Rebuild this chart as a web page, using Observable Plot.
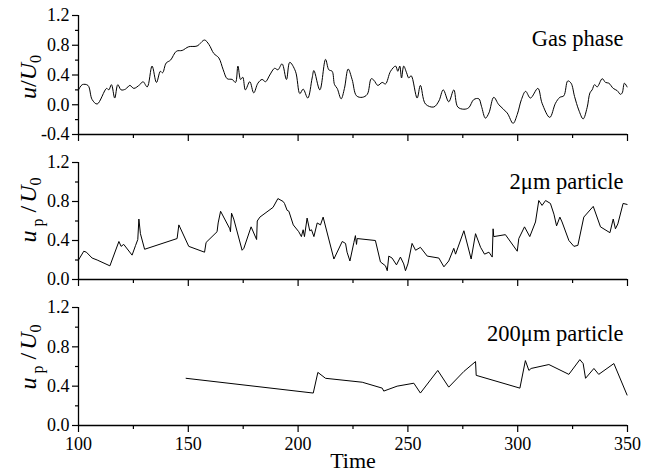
<!DOCTYPE html>
<html><head><meta charset="utf-8">
<script src="https://cdn.jsdelivr.net/npm/d3@7"></script>
<script src="https://cdn.jsdelivr.net/npm/@observablehq/plot@0.6"></script>
<style>body{margin:0;background:#fff} #chart{width:654px} #chart svg{display:block} #chart svg text{font-family:'Liberation Serif','Times New Roman','DejaVu Serif',serif !important}</style>
</head><body><div id="chart"></div>
<script>
const xDomain = [100, 350];
const xMajor = [100, 150, 200, 250, 300, 350];
const xMinor = [125, 175, 225, 275, 325];
const xTickLabels = ["100", "150", "200", "250", "300", "350"];
const yTopMajor = [-0.4, 0, 0.4, 0.8, 1.2];
const yTopMinor = [-0.2, 0.2, 0.6, 1.0];
const yTopLabels = ["-0.4", "0.0", "0.4", "0.8", "1.2"];
const yMajor = [0, 0.4, 0.8, 1.2];
const yMinor = [0.2, 0.6, 1.0];
const yLabels = ["0.0", "0.4", "0.8", "1.2"];
const panelLabels = ["Gas phase", "2μm particle", "200μm particle"];
const xTitle = "Time";

const gasTime = [100.0,101.7,104.3,106.2,108.5,112.8,113.8,115.0,116.5,117.9,119.4,121.4,123.4,125.2,127.9,129.4,131.3,133.5,135.5,137.3,138.3,139.9,141.9,144.6,147.2,150.2,154.0,157.4,159.4,161.6,163.9,165.9,167.7,170.0,171.5,172.6,173.8,174.8,176.0,178.0,179.8,181.7,183.6,185.2,187.1,189.3,190.8,192.7,194.7,196.2,198.8,200.8,202.3,204.4,206.4,207.2,209.9,212.5,214.0,215.5,216.6,217.8,219.6,221.1,222.8,224.6,226.6,229.2,231.5,233.3,234.5,236.3,238.3,239.8,242.1,244.4,245.4,246.3,247.1,248.1,249.4,250.4,251.5,254.2,255.7,258.0,261.8,264.1,266.1,268.6,270.9,272.7,275.5,277.7,280.0,282.3,283.5,285.3,286.9,289.1,291.4,295.2,297.9,299.8,301.7,303.6,305.8,309.2,311.1,314.6,317.2,319.2,321.0,322.8,324.3,325.9,327.8,329.8,331.6,332.9,333.9,335.0,336.2,338.5,340.0,341.5,343.5,345.3,346.8,347.6,348.6,349.8];
const gasU = [0.20,0.27,0.26,0.07,0.01,0.22,0.20,0.27,0.09,0.27,0.20,0.21,0.26,0.22,0.27,0.31,0.24,0.52,0.30,0.45,0.43,0.56,0.60,0.72,0.73,0.78,0.79,0.87,0.81,0.69,0.63,0.47,0.35,0.34,0.30,0.52,0.34,0.37,0.20,0.31,0.16,0.29,0.34,0.31,0.40,0.49,0.47,0.55,0.34,0.57,0.45,0.15,0.21,0.09,0.36,0.46,0.20,0.61,0.47,0.45,0.27,0.22,0.08,0.22,0.48,0.34,0.12,0.10,0.14,0.35,0.33,0.26,0.30,0.28,0.45,0.52,0.45,0.52,0.36,0.52,0.43,0.36,0.39,0.09,0.26,0.01,-0.03,0.05,0.20,0.04,0.20,-0.03,-0.06,-0.04,0.07,0.08,-0.02,-0.18,-0.11,0.10,0.00,-0.11,-0.25,-0.13,0.07,0.18,0.09,0.22,0.02,-0.17,0.02,0.10,0.12,0.32,0.29,0.11,-0.07,-0.19,-0.04,0.16,0.20,0.27,0.24,0.35,0.30,0.29,0.22,0.19,0.14,0.16,0.29,0.24];

const p2Time = [100.0,102.4,103.6,106.2,108.5,114.3,118.4,119.4,120.6,124.4,126.0,127.0,127.5,128.2,130.1,144.9,145.7,150.2,157.4,158.1,163.1,163.6,164.7,168.9,169.2,169.7,170.7,174.5,175.3,178.6,181.1,181.4,182.6,188.6,190.8,193.2,193.8,195.0,195.8,197.8,200.3,201.5,202.3,202.9,204.1,205.3,206.1,207.2,208.7,210.2,211.4,216.3,220.1,221.6,222.3,223.6,225.4,226.1,226.6,226.9,235.2,237.5,239.8,240.6,241.3,242.8,244.8,246.6,248.1,248.9,250.0,251.9,253.5,255.7,258.8,264.1,266.4,268.6,270.9,271.7,275.5,278.8,280.8,283.1,284.9,286.9,288.4,288.8,289.1,294.4,299.8,300.5,303.1,305.5,308.1,309.6,311.1,312.7,314.9,316.5,317.7,319.2,320.2,323.3,325.6,327.4,330.1,334.4,337.7,342.0,343.5,344.5,345.6,348.0,349.8];
const p2U = [0.20,0.29,0.28,0.22,0.20,0.14,0.39,0.34,0.36,0.25,0.35,0.41,0.62,0.47,0.31,0.42,0.56,0.34,0.28,0.38,0.49,0.58,0.70,0.52,0.49,0.68,0.62,0.30,0.32,0.54,0.41,0.60,0.64,0.74,0.83,0.80,0.78,0.71,0.70,0.56,0.49,0.44,0.51,0.44,0.63,0.50,0.51,0.44,0.58,0.56,0.64,0.21,0.39,0.37,0.28,0.19,0.38,0.45,0.36,0.42,0.40,0.18,0.14,0.09,0.24,0.22,0.15,0.23,0.16,0.09,0.16,0.37,0.30,0.33,0.24,0.22,0.13,0.19,0.32,0.26,0.50,0.21,0.47,0.33,0.26,0.28,0.23,0.52,0.44,0.46,0.29,0.42,0.54,0.44,0.59,0.81,0.76,0.81,0.78,0.67,0.55,0.64,0.59,0.40,0.34,0.35,0.64,0.75,0.54,0.48,0.62,0.52,0.57,0.78,0.77];

const p200Time = [149.0,206.9,209.0,212.5,229.2,238.3,239.0,245.1,252.7,255.7,263.6,268.6,275.5,280.8,281.1,301.0,303.5,305.1,306.1,314.2,323.3,328.3,329.8,330.9,334.7,336.9,343.8,349.8];
const p200U = [0.48,0.33,0.54,0.48,0.44,0.38,0.35,0.40,0.43,0.33,0.56,0.39,0.55,0.65,0.51,0.38,0.66,0.56,0.58,0.62,0.52,0.67,0.63,0.48,0.58,0.52,0.63,0.31];

const FONT = "'Liberation Serif', 'Times New Roman', 'DejaVu Serif', serif";

function panel(o) {
  const fmt = (ticks, labels) => d => labels[ticks.indexOf(d)];
  const svg = Plot.plot({
    width: 654, height: o.height,
    marginLeft: 78, marginRight: 27, marginTop: o.mt, marginBottom: o.mb,
    style: {fontFamily: FONT, fontSize: "18px", color: "black", background: "white", overflow: "visible"},
    x: {domain: xDomain},
    y: {domain: [o.yMaj[0], o.yMaj[o.yMaj.length - 1]]},
    marks: [
      Plot.axisY({ticks: o.yMaj, tickSize: 6, tickPadding: 3, strokeWidth: 1.2, tickFormat: fmt(o.yMaj, o.yLab), fontSize: 18, label: null}),
      Plot.axisY({ticks: o.yMin, tickSize: 3, strokeWidth: 1.2, tickFormat: () => "", label: null}),
      Plot.axisX({ticks: xMajor, tickSize: 7, tickPadding: 5, strokeWidth: 1.2, tickFormat: o.showX ? fmt(xMajor, xTickLabels) : () => "", fontSize: 18, label: null}),
      Plot.axisX({ticks: xMinor, tickSize: 4, strokeWidth: 1.2, tickFormat: () => "", label: null}),
      Plot.ruleX([xDomain[0]], {strokeWidth: 1.3}),
      Plot.ruleY([o.yMaj[0]], {strokeWidth: 1.3}),
      Plot.line(o.t, {x: o.t, y: o.u, curve: o.curve, stroke: "black", strokeWidth: 1}),
      Plot.text([o.label], {text: d => d, frameAnchor: "top-right", textAnchor: "end", lineAnchor: "bottom", dx: -4, dy: o.labelDy, fontSize: 22.5, fill: "black"}),
      o.showX ? Plot.text([xTitle], {text: d => d, frameAnchor: "bottom", lineAnchor: "bottom", dy: 42, fontSize: 22, fill: "black"}) : null
    ]
  });
  const t = d3.select(svg).append("text")
    .attr("transform", `translate(36,${o.titleY}) rotate(-90)`)
    .attr("text-anchor", "middle")
    .attr("font-family", FONT)
    .attr("font-size", 24)
    .attr("fill", "black");
  t.append("tspan").attr("font-style", "italic").text("u");
  if (o.sub) {
    t.append("tspan").attr("font-size", 16).attr("dy", 7).attr("dx", 4).text(o.sub);
    t.append("tspan").attr("dy", -7).attr("dx", 6).text("/");
  } else {
    t.append("tspan").text("/");
  }
  t.append("tspan").attr("font-style", "italic").attr("dx", o.sub ? 3 : 0).text("U");
  t.append("tspan").attr("font-size", 16).attr("dy", 5).text("0");
  return svg;
}

const chart = document.getElementById("chart");
chart.appendChild(panel({height: 148, mt: 15, mb: 14, yMaj: yTopMajor, yMin: yTopMinor, yLab: yTopLabels,
  t: gasTime, u: gasU, curve: "catmull-rom", label: panelLabels[0], labelDy: 30, showX: false, titleY: 77}));
chart.appendChild(panel({height: 148, mt: 14, mb: 17, yMaj: yMajor, yMin: yMinor, yLab: yLabels,
  t: p2Time, u: p2U, curve: "linear", label: panelLabels[1], labelDy: 26, showX: false, titleY: 62, sub: "p"}));
chart.appendChild(panel({height: 178, mt: 11, mb: 49, yMaj: yMajor, yMin: yMinor, yLab: yLabels,
  t: p200Time, u: p200U, curve: "linear", label: panelLabels[2], labelDy: 33, showX: true, titleY: 61, sub: "p"}));
</script>
</body></html>
